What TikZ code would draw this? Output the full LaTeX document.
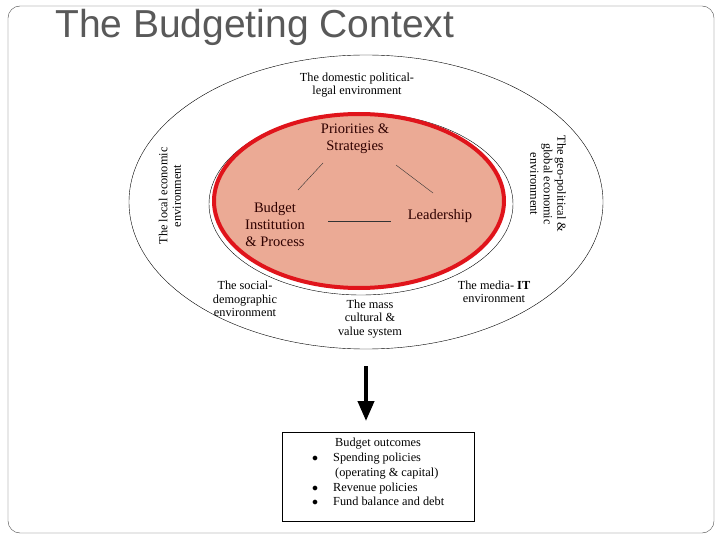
\documentclass[tikz,border=0pt]{standalone}
\usepackage{fontspec}
\setmainfont{Liberation Serif}
\newfontfamily\titlefont{Liberation Sans}
\usetikzlibrary{arrows.meta}
\definecolor{salmon}{HTML}{EBAA95}
\definecolor{redline}{HTML}{E0141B}
\tikzset{lbl/.style={align=center,font=\fontsize{12.3}{13.5}\selectfont,inner sep=0pt},
 inlbl/.style={align=center,font=\fontsize{14.5}{17}\selectfont,text=black!70!red!60!black,inner sep=0pt}}
\begin{document}
\begin{tikzpicture}[x=1pt,y=-1pt]
\useasboundingbox (0,0) rectangle (720,540);
\fill[white] (0,0) rectangle (720,540);
\draw[black!70,rounded corners=12pt] (8,6) rectangle (714,533);
\node[anchor=west,font=\titlefont\fontsize{39}{40}\selectfont,text=black!65,inner sep=0pt] (title) at (55,27) {The Budgeting Context};
\draw (366,202) ellipse [x radius=237, y radius=147];
\draw (361,204) ellipse [x radius=152, y radius=91];
\draw[redline,line width=4pt,fill=salmon] (359,201) ellipse [x radius=145, y radius=87];
\node[lbl] (dom) at (357,85) {The domestic political-\\legal environment};
\node[lbl,rotate=90] (loc) at (170,196) {The local economic\\environment};
\node[lbl,rotate=-90] (geo) at (548,184) {The geo-political \&\\global economic\\environment};
\node[lbl] (soc) at (245,299) {The social-\\demographic\\environment};
\node[lbl] (mass) at (370,319) {The mass\\cultural \&\\value system};
\node[lbl] (med) at (494,292) {The media- \textbf{IT}\\environment};
\node[inlbl] (pri) at (355,139) {Priorities \&\\Strategies};
\node[inlbl] (bud) at (275,225) {Budget\\Institution\\\& Process};
\node[inlbl] (lead) at (440,216) {Leadership};
\coordinate (a1) at (323,163); \coordinate (a2) at (298,190);
\coordinate (b1) at (396,165); \coordinate (b2) at (433,193);
\coordinate (c1) at (328,221); \coordinate (c2) at (391,221);
\draw[black!80] (a1) -- (a2); \draw[black!80] (b1) -- (b2); \draw[black!80] (c1) -- (c2);
\node[draw,minimum width=192pt,minimum height=89pt,inner sep=0pt] (box) at (378,476.5) {};
\coordinate (ar1) at (366,366);
\coordinate (ar2) at (366,421);
\draw[line width=4pt,-{Triangle[length=20pt,width=16pt]}] (ar1) -- (ar2);
\node[anchor=north west,inner sep=0pt,font=\fontsize{12.3}{14.8}\selectfont,align=left] (txt) at (312,438)
{\hspace*{23pt}Budget outcomes\\
$\bullet$\hspace{15pt}Spending policies\\
\hspace*{23pt}(operating \& capital)\\
$\bullet$\hspace{15pt}Revenue policies\\
$\bullet$\hspace{15pt}Fund balance and debt};
\end{tikzpicture}
\end{document}
